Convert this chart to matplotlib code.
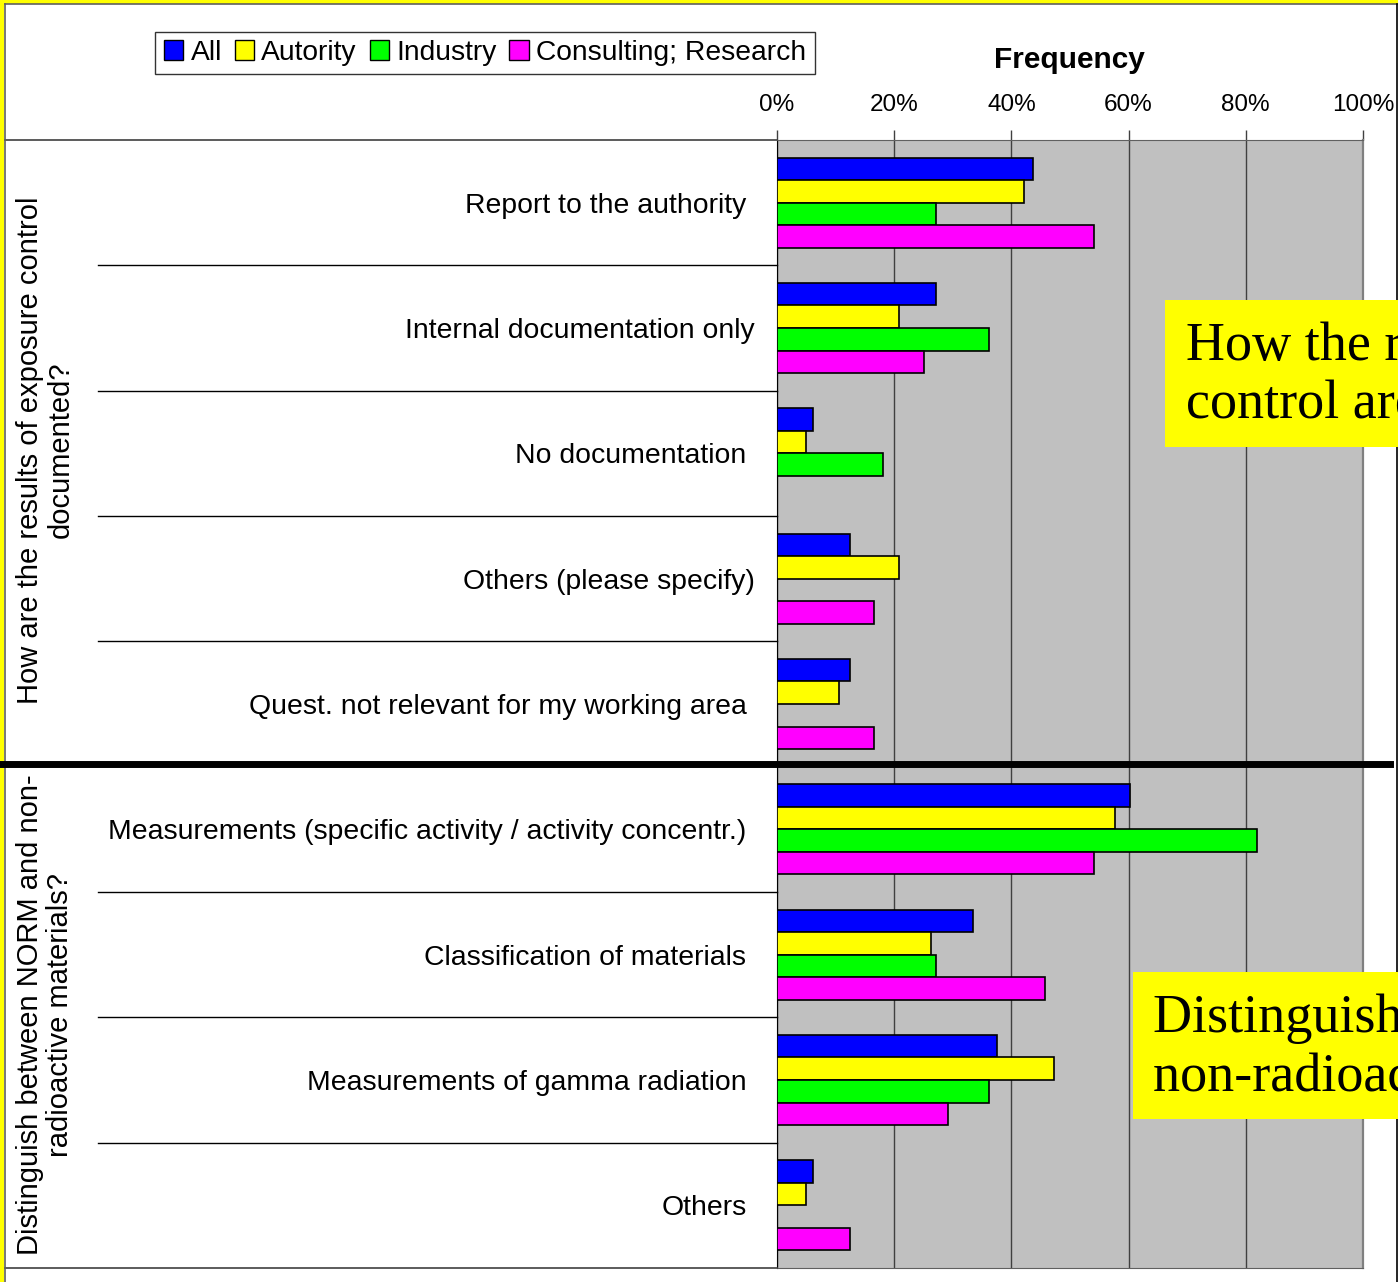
import numpy as np
import matplotlib
matplotlib.use('Agg')
import matplotlib.pyplot as plt
from matplotlib.patches import Patch, Rectangle
from matplotlib.lines import Line2D
from matplotlib.transforms import Bbox, ScaledTranslation

plt.rcParams['font.family'] = ['Liberation Sans', 'DejaVu Sans']

categories = ['Report to the authority', 'Internal documentation only', 'No documentation',
              'Others (please specify)', 'Quest. not relevant for my working area',
              'Measurements (specific activity / activity concentr.)',
              'Classification of materials', 'Measurements of gamma radiation', 'Others']
series = ['All', 'Autority', 'Industry', 'Consulting; Research']
colors = ['#0000ff', '#ffff00', '#00ff00', '#ff00ff']
all_vals = [43.7, 27.1, 6.2, 12.5, 12.5, 60.2, 33.4, 37.5, 6.2]
autority = [42.2, 20.8, 5.0, 20.8, 10.6, 57.7, 26.3, 47.3, 5.0]
industry = [27.1, 36.2, 18.1, 0, 0, 81.9, 27.1, 36.2, 0]
consulting = [54.1, 25.0, 0, 16.6, 16.6, 54.1, 45.8, 29.2, 12.5]
groups = ['How are the results of exposure control\ndocumented?',
          'Distinguish between NORM and non-\nradioactive materials?']
ticks = [0, 20, 40, 60, 80, 100]

W, H = 1398, 1282
fig = plt.figure(figsize=(W / 100, H / 100), dpi=100)

def fx(x):
    return x / W

def fy(y):
    return 1 - y / H

ax = fig.add_axes([fx(777), fy(1268), fx(1363) - fx(777), fy(140) - fy(1268)])
ax.set_facecolor('#c0c0c0')

y = np.arange(len(categories))
offsets = [-0.27, -0.09, 0.09, 0.27]
for vals, off, c in zip([all_vals, autority, industry, consulting], offsets, colors):
    vals = np.array(vals)
    m = vals > 0
    ax.barh(y[m] + off, vals[m], height=0.18, color=c, edgecolor='black', linewidth=1.2, zorder=3)

ax.set_xlim(0, 100)
ax.set_ylim(len(categories) - 0.5, -0.5)
ax.set_xticks(ticks)
ax.set_xticklabels([f'{t}%' for t in ticks], fontsize=17.5)
ax.xaxis.tick_top()
ax.tick_params(axis='x', length=7, width=1, color='#404040', pad=10)
ax.grid(axis='x', color='#404040', linewidth=1, zorder=1)
ax.set_yticks(y)
ax.set_yticklabels(categories, fontsize=20.4)
ax.tick_params(axis='y', length=0, pad=22)
# two labels sit a little further right in the original
for i in (1, 3):
    lab = ax.get_yticklabels()[i]
    lab.set_transform(lab.get_transform() + ScaledTranslation(0.08, 0, fig.dpi_scale_trans))
for s in ['top', 'bottom']:
    ax.spines[s].set_color('#606060')
ax.spines['right'].set_color('#808080')
ax.spines['right'].set_linewidth(1.6)
ax.spines['left'].set_color('black')

fig.text(fx(1069), fy(60), 'Frequency', fontsize=21.5, fontweight='bold', ha='center', va='center')

# category separators in label area
rows = np.linspace(140, 1268, 10)
for i, r in enumerate(rows):
    if i in (0, 9):
        fig.add_artist(Line2D([fx(5), fx(777)], [fy(r), fy(r)], color='#404040', lw=1.2))
    elif i != 5:
        fig.add_artist(Line2D([fx(98), fx(777)], [fy(r), fy(r)], color='black', lw=1))

# thick divider
fig.add_artist(Line2D([fx(0), fx(1390)], [fy(764), fy(764)], color='black', lw=5, zorder=10))

# frame lines
fig.add_artist(Line2D([fx(5), fx(5)], [fy(4), fy(1282)], color='#606060', lw=1.2))
fig.add_artist(Line2D([fx(5), fx(1398)], [fy(4), fy(4)], color='#606060', lw=1.2))
fig.add_artist(Line2D([fx(1397), fx(1397)], [fy(4), fy(1282)], color='black', lw=1.2))
fig.add_artist(Rectangle((0, 0), fx(3.5), 1, color='#ffff00', lw=0))
fig.add_artist(Rectangle((0, fy(3.5)), 1, 1 - fy(3.5), color='#ffff00', lw=0))

# group labels
fig.text(fx(45), fy(450), groups[0], rotation=90, ha='center', va='center',
         fontsize=21, multialignment='center', linespacing=1.12)
t2 = fig.text(fx(45), fy(1015), groups[1], rotation=90, ha='center', va='center',
              fontsize=21, multialignment='center', linespacing=1.12)
t2.set_clip_box(Bbox.from_extents(0, 0, W, H - 770))
t2.set_clip_on(True)

# legend
handles = [Patch(facecolor=c, edgecolor='black', linewidth=1) for c in colors]
leg = fig.legend(handles, series, loc='center', bbox_to_anchor=(fx(485), fy(53)), ncol=4,
                 fontsize=20.3, frameon=True, fancybox=False, edgecolor='black',
                 handlelength=0.7, handleheight=0.7, handletextpad=0.25,
                 columnspacing=0.45, borderpad=0.3, borderaxespad=0)
leg.get_frame().set_linewidth(1)

# yellow callouts (cut off at the right edge, as in the original)
fig.add_artist(Rectangle((fx(1165), fy(447)), fx(300), fy(300) - fy(447),
                         facecolor='#ffff00', edgecolor='none', zorder=5))
fig.text(fx(1186), fy(376), 'How the results of exposure\ncontrol are documented?',
         family='Liberation Serif', fontsize=39, va='center', ha='left',
         linespacing=1.22, zorder=6)
fig.add_artist(Rectangle((fx(1133), fy(1119)), fx(300), fy(972) - fy(1119),
                         facecolor='#ffff00', edgecolor='none', zorder=5))
fig.text(fx(1153), fy(1048), 'Distinguish between NORM and\nnon-radioactive materials?',
         family='Liberation Serif', fontsize=39, va='center', ha='left',
         linespacing=1.22, zorder=6)

plt.savefig('out.png', dpi=100)
